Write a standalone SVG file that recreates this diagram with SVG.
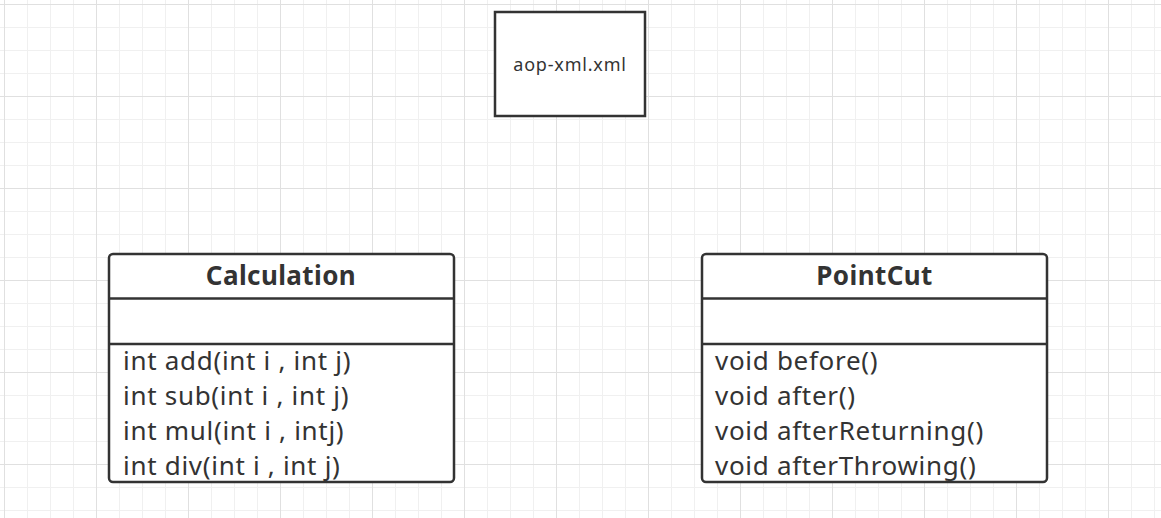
<svg xmlns="http://www.w3.org/2000/svg" width="1161" height="518" viewBox="0 0 1161 518">
<defs>
<pattern id="minor" x="4" y="4" width="23" height="23" patternUnits="userSpaceOnUse">
<path d="M0 0.5H23M0.5 0V23" fill="none" stroke="#f0f0f0" stroke-width="1"/>
</pattern>
<pattern id="major" x="4" y="4" width="92" height="92" patternUnits="userSpaceOnUse">
<path d="M0 0.5H92M0.5 0V92" fill="none" stroke="#e0e0e0" stroke-width="1"/>
</pattern>
</defs>
<style>
.box{fill:#fff;stroke:#333;stroke-width:2.5}
.line{stroke:#333;stroke-width:2.5}
.title{font-family:"Noto Sans","Open Sans",sans-serif;font-weight:bold;font-size:26px;letter-spacing:0.4px;fill:#333;text-anchor:middle}
.m{font-family:"Noto Sans","Open Sans",sans-serif;font-size:26px;letter-spacing:0.7px;fill:#333}
.lbl{font-family:"Noto Sans","Open Sans",sans-serif;font-size:18px;letter-spacing:0.8px;fill:#333;text-anchor:middle}
</style>
<rect width="1161" height="518" fill="#fff"/>
<rect width="1161" height="518" fill="url(#minor)"/>
<rect width="1161" height="518" fill="url(#major)"/>
<g id="aop-xml">
<rect class="box" x="495" y="12" width="150" height="104"/>
<text class="lbl" x="570" y="71">aop-xml.xml</text>
</g>
<g id="calculation">
<rect class="box" x="109" y="254" width="345" height="228" rx="4"/>
<line class="line" x1="109" y1="298.5" x2="454" y2="298.5"/>
<line class="line" x1="109" y1="344" x2="454" y2="344"/>
<text class="title" x="281" y="285">Calculation</text>
<text class="m" x="123" y="370">int add(int i , int j)</text>
<text class="m" x="123" y="405">int sub(int i , int j)</text>
<text class="m" x="123" y="440">int mul(int i , intj)</text>
<text class="m" x="123" y="475">int div(int i , int j)</text>
</g>
<g id="pointcut">
<rect class="box" x="702" y="254" width="345" height="228" rx="4"/>
<line class="line" x1="702" y1="298.5" x2="1047" y2="298.5"/>
<line class="line" x1="702" y1="344" x2="1047" y2="344"/>
<text class="title" x="874.5" y="285">PointCut</text>
<text class="m" x="715" y="370">void before()</text>
<text class="m" x="715" y="405">void after()</text>
<text class="m" x="715" y="440">void afterReturning()</text>
<text class="m" x="715" y="475">void afterThrowing()</text>
</g>
<g id="connectors"></g>
</svg>
